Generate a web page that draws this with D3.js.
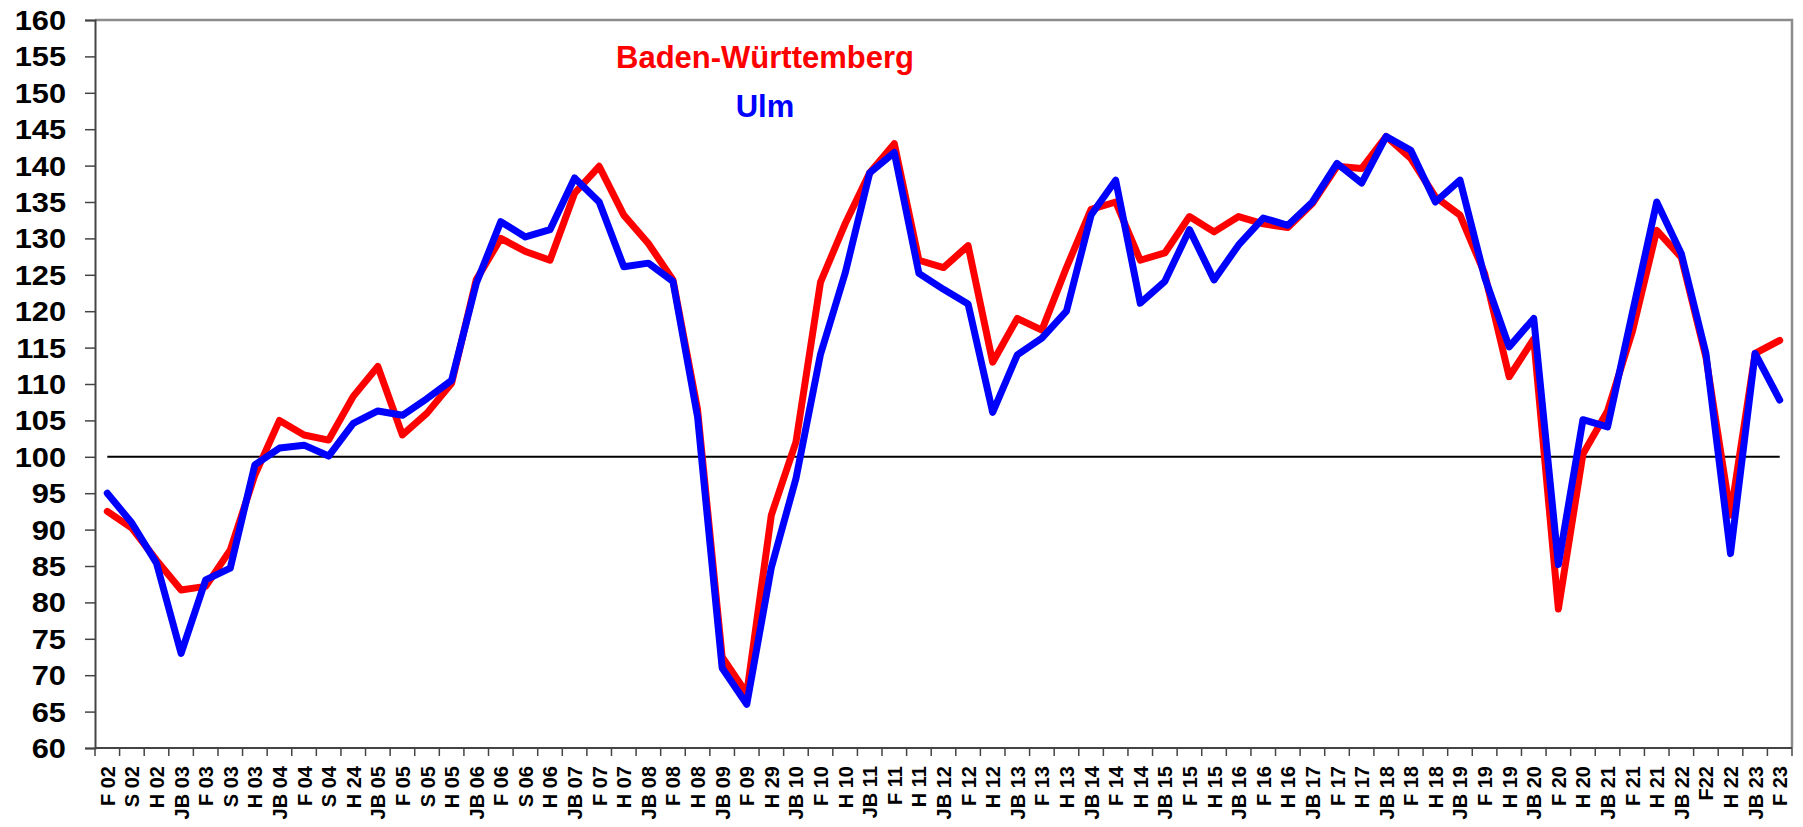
<!DOCTYPE html>
<html>
<head>
<meta charset="utf-8">
<script src="https://cdn.jsdelivr.net/npm/d3@7"></script>
<style>
  html, body { margin: 0; padding: 0; background: #fff; }
  svg { display: block; font-family: "Liberation Sans", Arial, sans-serif; }
</style>
</head>
<body>
<svg id="chart" width="1803" height="827"></svg>
<script>
const categories = ["F 02","S 02","H 02","JB 03","F 03","S 03","H 03","JB 04","F 04","S 04","H 24","JB 05","F 05","S 05","H 05","JB 06","F 06","S 06","H 06","JB 07","F 07","H 07","JB 08","F 08","H 08","JB 09","F 09","H 29","JB 10","F 10","H 10","JB 11","F 11","H 11","JB 12","F 12","H 12","JB 13","F 13","H 13","JB 14","F 14","H 14","JB 15","F 15","H 15","JB 16","F 16","H 16","JB 17","F 17","H 17","JB 18","F 18","H 18","JB 19","F 19","H 19","JB 20","F 20","H 20","JB 21","F 21","H 21","JB 22","F22","H 22","JB 23","F 23"];

const bwValues = [92.5,90.2,85.8,81.7,82.2,87.2,97.5,105,103,102.3,108.3,112.4,103,106,110.1,124.3,130,128.2,127,136.2,139.9,133.2,129.3,124.3,106.5,72.5,67.5,92,102,124,132,139,143,127,126,129,113,119,117.4,126,134,135,127,128,133,130.9,133,132,131.5,134.8,139.9,139.6,144,141,135.7,133.2,125.2,111,116.2,79.1,100.4,106.3,117.1,131.1,127.4,113.7,92,114.2,116];

const ulmValues = [95,90.9,85.4,73,83.1,84.7,98.9,101.2,101.6,100.1,104.6,106.3,105.7,108,110.5,123.8,132.3,130.2,131.2,138.3,135,126.1,126.6,124.1,105.5,71,66,84.8,97,114.1,125.2,139,141.8,125.2,123,121,106.1,114,116.3,120,133.2,138,121.1,124.1,131.2,124.3,129.1,132.8,131.8,135,140.3,137.6,144,142.1,135,138,124.7,115.1,119,85.2,105.1,104.1,119.6,135,127.9,114.2,86.7,114.2,107.8];

const yTicks = [60,65,70,75,80,85,90,95,100,105,110,115,120,125,130,135,140,145,150,155,160];
const referenceValue = [100];
const seriesNames = ["Baden-Württemberg", "Ulm"];
const seriesColors = ["#ff0000", "#0000ff"];

const svg = d3.select("#chart");
const plotLeft = 95, plotRight = 1792, plotTop = 20, plotBottom = 748;

const x = d3.scalePoint().domain(categories).range([plotLeft, plotRight]).padding(0.5);
const y = d3.scaleLinear().domain([60, 160]).range([plotBottom, plotTop]);
const step = x.step();

// frame (top and right, grey)
svg.append("path")
  .attr("d", `M${plotLeft},${plotTop}H${plotRight}V${plotBottom}`)
  .attr("fill", "none").attr("stroke", "#8c8c8c").attr("stroke-width", 2.5);

// y axis
const yAxis = d3.axisLeft(y).tickValues(yTicks).tickSize(10).tickFormat("");
const gy = svg.append("g").attr("transform", `translate(${plotLeft},0)`).call(yAxis);
gy.select(".domain").attr("stroke", "#444").attr("stroke-width", 2);
gy.selectAll(".tick line").attr("stroke", "#444").attr("stroke-width", 1.5);

svg.append("g").selectAll("text").data(yTicks).join("text")
  .attr("transform", d => `translate(66,${y(d)}) scale(1.08,1)`)
  .attr("text-anchor", "end")
  .attr("dominant-baseline", "central")
  .attr("font-size", 28.5).attr("font-weight", "bold").attr("fill", "#000")
  .text(d => d);

// x axis
const boundaries = categories.map(c => x(c) - step / 2).concat([x(categories[categories.length - 1]) + step / 2]);
svg.append("line").attr("x1", plotLeft).attr("x2", plotRight).attr("y1", plotBottom).attr("y2", plotBottom)
  .attr("stroke", "#444").attr("stroke-width", 2);
svg.append("g").selectAll("line").data(boundaries).join("line")
  .attr("x1", d => d).attr("x2", d => d).attr("y1", plotBottom).attr("y2", plotBottom + 8)
  .attr("stroke", "#444").attr("stroke-width", 1.5);

svg.append("g").selectAll("text").data(categories).join("text")
  .attr("transform", d => `translate(${x(d) + 7.5},766) rotate(-90)`)
  .attr("text-anchor", "end")
  .attr("font-size", 20).attr("font-weight", "bold").attr("fill", "#000")
  .text(d => d);

// reference line at 100
svg.append("g").selectAll("line").data(referenceValue).join("line")
  .attr("x1", x(categories[0])).attr("x2", x(categories[categories.length - 1]))
  .attr("y1", d => y(d)).attr("y2", d => y(d))
  .attr("stroke", "#000").attr("stroke-width", 2);

// lines
const line = d3.line().x((d, i) => x(categories[i])).y(d => y(d));
[bwValues, ulmValues].forEach((vals, k) => {
  svg.append("path").datum(vals)
    .attr("d", line)
    .attr("fill", "none")
    .attr("stroke", seriesColors[k])
    .attr("stroke-width", 7)
    .attr("stroke-linejoin", "round")
    .attr("stroke-linecap", "round");
});

// legend labels
svg.append("text").attr("x", 765).attr("y", 68).attr("text-anchor", "middle")
  .attr("font-size", 31).attr("font-weight", "bold").attr("fill", seriesColors[0])
  .text(seriesNames[0]);
svg.append("text").attr("x", 765).attr("y", 117).attr("text-anchor", "middle")
  .attr("font-size", 31).attr("font-weight", "bold").attr("fill", seriesColors[1])
  .text(seriesNames[1]);
</script>
</body>
</html>
